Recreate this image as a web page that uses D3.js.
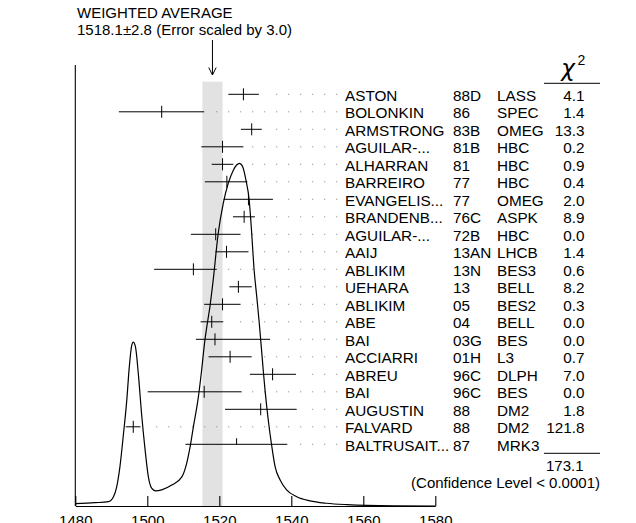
<!DOCTYPE html>
<html>
<head>
<meta charset="utf-8">
<script src="https://cdn.jsdelivr.net/npm/d3@7"></script>
<style>
  html, body { margin: 0; padding: 0; background: #fff; }
  svg { display: block; }
  text { font-family: "Liberation Sans", Arial, Helvetica, sans-serif; font-size: 15px; fill: #000; }
</style>
</head>
<body>
<svg id="chart" width="636" height="523"></svg>
<script>
// ---- data ----
const names = ["ASTON","BOLONKIN","ARMSTRONG","AGUILAR-...","ALHARRAN","BARREIRO","EVANGELIS...","BRANDENB...","AGUILAR-...","AAIJ","ABLIKIM","UEHARA","ABLIKIM","ABE","BAI","ACCIARRI","ABREU","BAI","AUGUSTIN","FALVARD","BALTRUSAIT..."];
const years = ["88D","86","83B","81B","81","77","77","76C","72B","13AN","13N","13","05","04","03G","01H","96C","96C","88","88","87"];
const experiments = ["LASS","SPEC","OMEG","HBC","HBC","HBC","OMEG","ASPK","HBC","LHCB","BES3","BELL","BES2","BELL","BES","L3","DLPH","BES","DM2","DM2","MRK3"];
const chi2 = ["4.1","1.4","13.3","0.2","0.9","0.4","2.0","8.9","0.0","1.4","0.6","8.2","0.3","0.0","0.0","0.7","7.0","0.0","1.8","121.8",""];
const values = [1526.7,1504.0,1529.0,1520.9,1520.9,1522.1,1528.1,1526.9,1519.0,1522.0,1512.8,1525.3,1520.9,1517.9,1518.8,1523.0,1534.8,1515.8,1531.5,1496.1,1524.8];
const errLo  = [4.2,11.9,3.0,5.9,3.0,6.1,6.9,3.1,6.9,3.1,10.9,2.5,5.1,3.1,5.3,6.0,6.3,15.7,9.9,2.1,14.2];
const errHi  = [4.3,11.8,2.8,5.8,3.0,5.7,6.8,3.0,6.9,6.1,6.5,3.7,5.0,3.2,15.3,6.0,6.5,10.4,10.0,2.0,14.1];
const halfTick = [false,false,false,false,false,false,false,false,false,false,false,false,false,false,false,false,false,false,false,false,true];

// ideogram curve: [mass, relative height]
const curveMass   = [1480,1485.5,1489.2,1490.6,1491.5,1492.4,1493.3,1494.3,1495.0,1495.7,1496.1,1496.7,1497.5,1498.4,1499.4,1500.3,1501.2,1502.3,1504.0,1506.8,1509.6,1510.9,1511.9,1512.8,1514.2,1515.1,1516.0,1516.6,1517.4,1518.3,1519.7,1521.1,1522.5,1523.9,1524.8,1525.6,1526.5,1527.4,1528.3,1529.0,1529.6,1530.4,1531.1,1532.2,1532.7,1533.6,1534.6,1535.5,1536.9,1538.7,1541.5,1545.2,1549.8,1555.4,1560.9,1580];
const curveHeight = [0.67,0.96,1.25,2.7,5.6,11.5,20.2,30.9,40.6,47.0,47.8,46.5,38.7,27.0,16.3,8.5,5.2,4.4,4.7,6.1,8.5,12.3,17.3,23.1,31.9,39.7,48.4,52.8,58.2,65.9,79.6,88.3,94.2,98.0,99.5,100,99.0,95.1,89.3,79.6,69.8,61.1,53.4,39.7,33.8,25.1,17.3,11.5,7.6,4.7,2.7,1.5,0.8,0.4,0.2,0];

const tickValues = [1480,1500,1520,1540,1560,1580];
const avgValue = 1518.1, avgErr = 2.8;
const titleLines = ["WEIGHTED AVERAGE", "1518.1\u00b12.8 (Error scaled by 3.0)"];
const chi2Total = "173.1";
const confText = "(Confidence Level < 0.0001)";

// ---- drawing ----
const svg = d3.select("#chart");
const x = d3.scaleLinear().domain([1480, 1580]).range([75.3, 435.3]);
const yRow = d3.scaleLinear().domain([0, names.length - 1]).range([94.3, 444.3]);
const yCurve = d3.scaleLinear().domain([0, 100]).range([506, 163.3]);
const baseY = 506;

// shaded band for weighted average
svg.append("rect")
  .attr("x", x(avgValue - avgErr)).attr("y", 81.7)
  .attr("width", x(avgValue + avgErr) - x(avgValue - avgErr))
  .attr("height", baseY - 81.7)
  .attr("fill", "#e2e2e2");

// title
svg.selectAll("text.title").data(titleLines).join("text")
  .attr("class", "title")
  .attr("x", 77).attr("y", (d, i) => 17.5 + i * 17.5)
  .text(d => d);

// arrow
const ax = x(avgValue);
svg.append("line").attr("x1", ax).attr("x2", ax).attr("y1", 40).attr("y2", 75)
  .attr("stroke", "#000").attr("stroke-width", 1);
svg.append("path").attr("d", `M${ax - 3.7},${67.5} L${ax},${75} L${ax + 3.7},${67.5}`)
  .attr("fill", "none").attr("stroke", "#000").attr("stroke-width", 1);

// left axis line
svg.append("line").attr("x1", x(1480)).attr("x2", x(1480)).attr("y1", 65).attr("y2", baseY)
  .attr("stroke", "#000").attr("stroke-width", 1.1);

// bottom axis
const axis = d3.axisBottom(x).tickValues(tickValues).tickSizeInner(-10).tickSizeOuter(0).tickPadding(9)
  .tickFormat(d3.format("d"));
const gAxis = svg.append("g").attr("transform", `translate(0,${baseY})`).call(axis);
gAxis.selectAll("path,line").attr("stroke", "#000").attr("stroke-width", 1.1);
gAxis.selectAll("text").style("font-family", '"Liberation Sans", Arial, sans-serif').style("font-size", "15px").attr("fill", "#000");

// dotted leaders
const dotGridRight = 336.7;
names.forEach((n, i) => {
  const barEnd = x(values[i] + errHi[i]);
  const pts = [];
  for (let k = 0; k < 40; k++) {
    const px = dotGridRight - 12 * k;
    if (px <= barEnd + 8) break;
    pts.push(px);
  }
  svg.append("g").selectAll("rect").data(pts).join("rect")
    .attr("x", d => d - 0.5).attr("y", yRow(i) - 0.5)
    .attr("width", 1).attr("height", 1).attr("fill", "#808080");
});

// ideogram curve
const pts = curveMass.map((m, i) => [m, curveHeight[i]]);
svg.append("path")
  .attr("d", d3.line().x(d => x(d[0])).y(d => yCurve(d[1])).curve(d3.curveMonotoneX)(pts))
  .attr("fill", "none").attr("stroke", "#000").attr("stroke-width", 1.2);

// error bars
const gBars = svg.append("g");
names.forEach((n, i) => {
  const y = yRow(i);
  gBars.append("line")
    .attr("x1", x(values[i] - errLo[i])).attr("x2", x(values[i] + errHi[i]))
    .attr("y1", y).attr("y2", y).attr("stroke", "#000").attr("stroke-width", 1);
  gBars.append("line")
    .attr("x1", x(values[i])).attr("x2", x(values[i]))
    .attr("y1", y - 6).attr("y2", halfTick[i] ? y : y + 6)
    .attr("stroke", "#000").attr("stroke-width", 1);
});

// table text
const gT = svg.append("g").style("font-size", "15.3px");
names.forEach((n, i) => {
  const yb = yRow(i) + 6.5;
  gT.append("text").attr("x", 345).attr("y", yb).style("font-size", "15.3px").text(n);
  gT.append("text").attr("x", 453).attr("y", yb).style("font-size", "15.3px").text(years[i]);
  gT.append("text").attr("x", 497).attr("y", yb).style("font-size", "15.3px").text(experiments[i]);
  gT.append("text").attr("x", 584.5).attr("y", yb).attr("text-anchor", "end").style("font-size", "15.3px").text(chi2[i]);
});

// chi2 header
svg.append("text").attr("x", 568).attr("y", 76).attr("text-anchor", "middle")
  .style("font-family", '"DejaVu Sans", sans-serif').style("font-style", "italic")
  .style("font-size", "23px").text("\u03c7");
svg.append("text").attr("x", 577.5).attr("y", 65).style("font-size", "14px").text("2");
svg.append("line").attr("x1", 544).attr("x2", 600).attr("y1", 83.3).attr("y2", 83.3)
  .attr("stroke", "#000").attr("stroke-width", 1);

// totals
svg.append("line").attr("x1", 544).attr("x2", 600).attr("y1", 453.3).attr("y2", 453.3)
  .attr("stroke", "#000").attr("stroke-width", 1);
svg.append("text").attr("x", 583.5).attr("y", 471).attr("text-anchor", "end").text(chi2Total);
svg.append("text").attr("x", 600).attr("y", 488.3).attr("text-anchor", "end").text(confText);
</script>
</body>
</html>
